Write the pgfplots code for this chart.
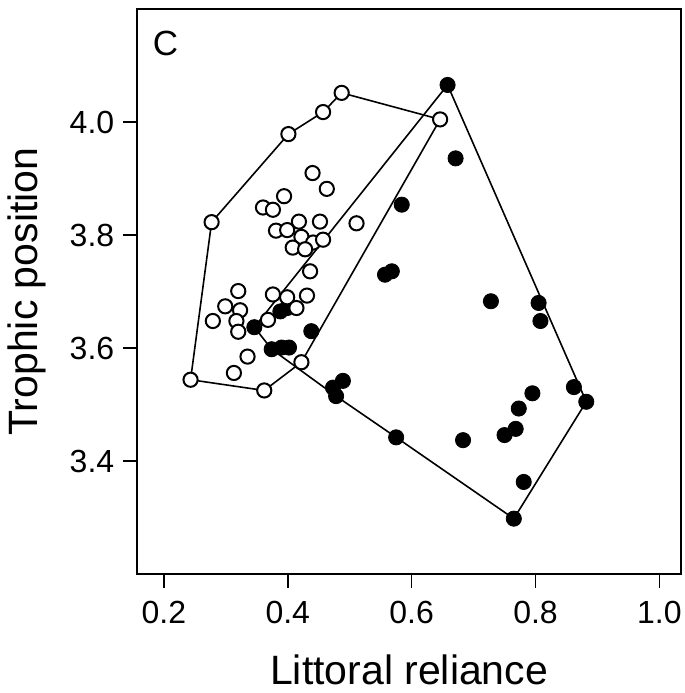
\documentclass[border=0pt]{standalone}
\usepackage{fontspec}
\setmainfont{Liberation Sans}
\usepackage{pgfplots}
\pgfplotsset{compat=1.18}

% open circles: first group, filled: second group
\pgfplotstableread{
x y
0.487 4.052
0.457 4.018
0.401 3.979
0.646 4.005
0.277 3.823
0.440 3.910
0.463 3.882
0.394 3.869
0.360 3.849
0.376 3.845
0.418 3.824
0.452 3.824
0.511 3.821
0.381 3.808
0.399 3.809
0.422 3.797
0.441 3.787
0.457 3.792
0.408 3.778
0.428 3.775
0.436 3.736
0.320 3.701
0.376 3.695
0.399 3.690
0.431 3.693
0.299 3.674
0.323 3.667
0.414 3.671
0.279 3.648
0.317 3.648
0.368 3.650
0.320 3.629
0.335 3.585
0.422 3.575
0.313 3.556
0.243 3.544
0.362 3.525
}\opendata

\pgfplotstableread{
x y
0.658 4.066
0.671 3.936
0.584 3.854
0.557 3.730
0.568 3.736
0.728 3.683
0.805 3.680
0.808 3.648
0.388 3.665
0.399 3.671
0.346 3.637
0.438 3.630
0.374 3.598
0.390 3.601
0.402 3.601
0.489 3.542
0.473 3.530
0.478 3.515
0.575 3.442
0.683 3.437
0.750 3.446
0.768 3.457
0.773 3.493
0.795 3.520
0.862 3.531
0.882 3.505
0.781 3.363
0.765 3.298
}\filleddata

\begin{document}
\begin{tikzpicture}
\begin{axis}[
  scale only axis,
  width=271.85pt, height=282.35pt,
  xmin=0.157, xmax=1.035,
  ymin=3.2, ymax=4.2,
  xtick={0.2,0.4,0.6,0.8,1.0},
  ytick={3.4,3.6,3.8,4.0},
  xtick pos=bottom, ytick pos=left,
  tick align=outside,
  major tick length=7pt,
  tick style={black, line width=0.8pt},
  axis line style={black, line width=0.8pt},
  /pgf/number format/assume math mode=true,
  /pgf/number format/.cd, fixed, fixed zerofill, precision=1, /pgfplots/.cd,
  tick label style={font=\fontsize{16}{19}\selectfont},
  xticklabel style={anchor=north, yshift=-3pt},
  yticklabel style={anchor=east, xshift=-1pt},
  xlabel={Littoral reliance},
  ylabel={Trophic position},
  every axis x label/.style={at={(axis description cs:0.5,-0.1948)}, anchor=base,
    font=\fontsize{20.5}{24}\selectfont},
  every axis y label/.style={at={(axis description cs:-0.154,0.5)}, rotate=90, anchor=south,
    font=\fontsize{20.5}{24}\selectfont},
  clip=false,
]
% convex hulls
\addplot[black, line width=0.8pt, line join=round, mark=none] coordinates {
  (0.646,4.005) (0.422,3.575) (0.362,3.525) (0.243,3.544) (0.277,3.823)
  (0.401,3.979) (0.457,4.018) (0.487,4.052) (0.646,4.005)};
\addplot[black, line width=0.8pt, line join=round, mark=none] coordinates {
  (0.658,4.066) (0.882,3.505) (0.765,3.298) (0.575,3.442) (0.478,3.515)
  (0.374,3.598) (0.346,3.637) (0.658,4.066)};
% points
\addplot[only marks, mark=*, mark size=3.8pt, mark options={fill=black, draw=black}] table {\filleddata};
\addplot[only marks, mark=*, mark size=3.55pt, mark options={fill=white, draw=black, line width=1pt}] table {\opendata};
\node[font=\fontsize{17.5}{20}\selectfont] at (rel axis cs:0.052,0.94) {C};
\end{axis}
\pgfresetboundingbox
\path[use as bounding box] ([xshift=-68.65pt,yshift=-59.5pt]current axis.south west) rectangle ([xshift=1.5pt,yshift=4.65pt]current axis.north east);
\end{tikzpicture}
\end{document}
